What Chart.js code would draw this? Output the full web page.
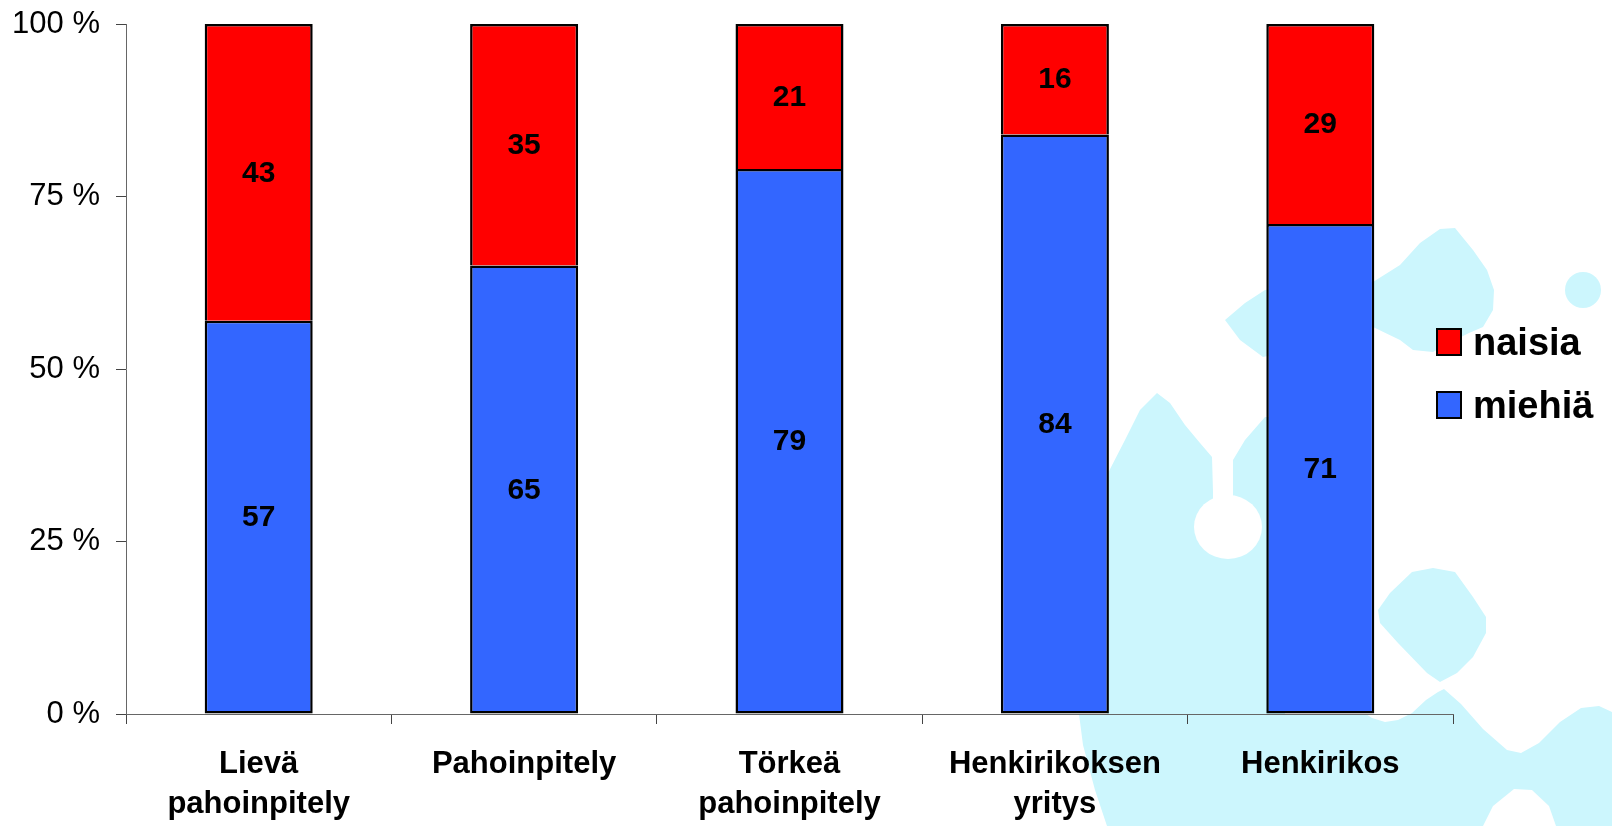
<!DOCTYPE html>
<html lang="fi">
<head>
<meta charset="utf-8">
<title>Pahoinpitelyt ja henkirikokset sukupuolen mukaan</title>
<script src="https://cdn.jsdelivr.net/npm/chart.js@4.4.1/dist/chart.umd.min.js"></script>
<style>
  html, body { margin: 0; padding: 0; background: #fff; }
  #wrap { width: 1612px; height: 826px; position: relative; }
</style>
</head>
<body>
<div id="wrap"><canvas id="osuudet" width="1612" height="826"></canvas></div>
<script>
// Data (prosenttia)
const categories = [['Lievä', 'pahoinpitely'], 'Pahoinpitely', ['Törkeä', 'pahoinpitely'], ['Henkirikoksen', 'yritys'], 'Henkirikos'];
const miehia = [57, 65, 79, 84, 71];
const naisia = [43, 35, 21, 16, 29];
const yTicks = [0, 25, 50, 75, 100];

const FONT = "'Liberation Sans', Arial, sans-serif";

// Taustan vaaleansiniset kuviot (pelkkää koristetta)
const taustaKuviot = {
    id: 'taustaKuviot',
    beforeDraw(chart) {
        const c = chart.ctx;
        const poly = (pts, col) => {
            c.beginPath();
            c.moveTo(pts[0][0], pts[0][1]);
            for (let i = 1; i < pts.length; i++) c.lineTo(pts[i][0], pts[i][1]);
            c.closePath();
            c.fillStyle = col;
            c.fill();
        };
        const cyan = '#ccf6fd';
        c.save();
        // ylempi palapeli
        poly([[1225, 320], [1245, 303], [1265, 290], [1320, 285], [1373, 282], [1400, 265], [1420, 243], [1440, 229],
              [1455, 228], [1473, 250], [1487, 270], [1494, 290], [1493, 310], [1483, 327], [1469, 333], [1455, 340],
              [1433, 352], [1413, 350], [1400, 340], [1373, 327], [1320, 345], [1263, 357], [1240, 340]], cyan);
        // pieni pallo
        c.beginPath();
        c.arc(1583, 290, 18, 0, Math.PI * 2);
        c.fillStyle = cyan;
        c.fill();
        // keskimmäinen
        poly([[1107, 475], [1125, 440], [1140, 410], [1157, 393], [1170, 403], [1185, 425], [1200, 443], [1212, 457],
              [1213, 492], [1233, 492], [1233, 460], [1245, 440], [1265, 417], [1285, 417], [1285, 716], [1107, 716]], cyan);
        // salmiakki
        poly([[1378, 610], [1390, 593], [1412, 572], [1433, 568], [1455, 572], [1473, 597], [1486, 617], [1486, 633],
              [1473, 657], [1457, 673], [1440, 682], [1427, 673], [1398, 643], [1380, 623]], cyan);
        // alaosa
        poly([[1079, 714], [1366, 714], [1372, 718], [1385, 722], [1398, 720], [1412, 713], [1426, 700], [1438, 692],
              [1444, 689], [1461, 704], [1483, 729], [1507, 750], [1521, 753], [1539, 743], [1560, 722], [1581, 708],
              [1599, 706], [1612, 712], [1612, 826], [1107, 826], [1095, 790], [1083, 745]], cyan);
        // valkoiset aukot
        c.fillStyle = '#fff';
        c.beginPath();
        c.ellipse(1228, 527, 34, 32, 0, 0, Math.PI * 2);
        c.fill();
        c.fillRect(1213, 480, 20, 30);
        poly([[1483, 826], [1493, 806], [1514, 789], [1532, 790], [1549, 806], [1556, 826]], '#fff');
        c.restore();
    }
};

// Arvot pylväiden keskelle
const arvoTekstit = {
    id: 'arvoTekstit',
    afterDatasetsDraw(chart) {
        const c = chart.ctx;
        c.save();
        c.font = 'bold 30px ' + FONT;
        c.fillStyle = '#000';
        c.textAlign = 'center';
        c.textBaseline = 'middle';
        chart.data.datasets.forEach((ds, i) => {
            chart.getDatasetMeta(i).data.forEach((bar, j) => {
                const p = bar.getProps(['x', 'y', 'base'], true);
                c.fillText(ds.data[j], p.x, (p.y + p.base) / 2 + 1);
            });
        });
        c.restore();
    }
};

// Selite oikealle (piirretään kaavion päälle)
const selite = {
    id: 'selite',
    afterDraw(chart) {
        const c = chart.ctx;
        const rivit = chart.data.datasets.slice().reverse();
        c.save();
        c.font = 'bold 38px ' + FONT;
        c.textBaseline = 'alphabetic';
        rivit.forEach((ds, i) => {
            const y = 329 + i * 63;
            c.fillStyle = ds.backgroundColor;
            c.fillRect(1437, y, 24, 26);
            c.strokeStyle = '#000';
            c.lineWidth = 2;
            c.strokeRect(1437, y, 24, 26);
            c.fillStyle = '#000';
            c.fillText(ds.label, 1473, y + 26);
        });
        c.restore();
    }
};

new Chart(document.getElementById('osuudet'), {
    type: 'bar',
    data: {
        labels: categories,
        datasets: [
            { label: 'miehiä', data: miehia, backgroundColor: '#3366ff', borderColor: '#000', borderWidth: 2.5, borderSkipped: false },
            { label: 'naisia', data: naisia, backgroundColor: '#ff0000', borderColor: '#000', borderWidth: 2.5, borderSkipped: 'bottom' }
        ]
    },
    options: {
        responsive: false,
        animation: false,
        devicePixelRatio: 1,
        layout: { padding: { top: 24, right: 159, left: 0, bottom: 0 } },
        datasets: { bar: { barPercentage: 0.407, categoryPercentage: 1 } },
        plugins: { legend: { display: false }, tooltip: { enabled: false } },
        scales: {
            x: {
                stacked: true,
                grid: { offset: true, drawOnChartArea: false, drawTicks: true, tickLength: 10, color: '#444', lineWidth: 1 },
                border: { color: '#666', width: 1 },
                ticks: {
                    color: '#000',
                    font: { family: FONT, size: 31, weight: 'bold', lineHeight: 1.29 },
                    padding: 20,
                    maxRotation: 0,
                    autoSkip: false
                },
                afterFit(scale) { scale.height = 112; scale.paddingLeft = 0; scale.paddingRight = 0; }
            },
            y: {
                stacked: true,
                min: yTicks[0],
                max: yTicks[yTicks.length - 1],
                afterBuildTicks(scale) { scale.ticks = yTicks.map(v => ({ value: v })); },
                grid: { drawOnChartArea: false, drawTicks: true, tickLength: 10, color: '#444' },
                border: { color: '#666', width: 1 },
                ticks: {
                    color: '#000',
                    font: { family: FONT, size: 31 },
                    padding: 16,
                    callback: v => v + ' %'
                },
                afterFit(scale) { scale.width = 126; scale.paddingTop = 0; scale.paddingBottom = 0; }
            }
        }
    },
    plugins: [taustaKuviot, arvoTekstit, selite]
});
</script>
</body>
</html>
